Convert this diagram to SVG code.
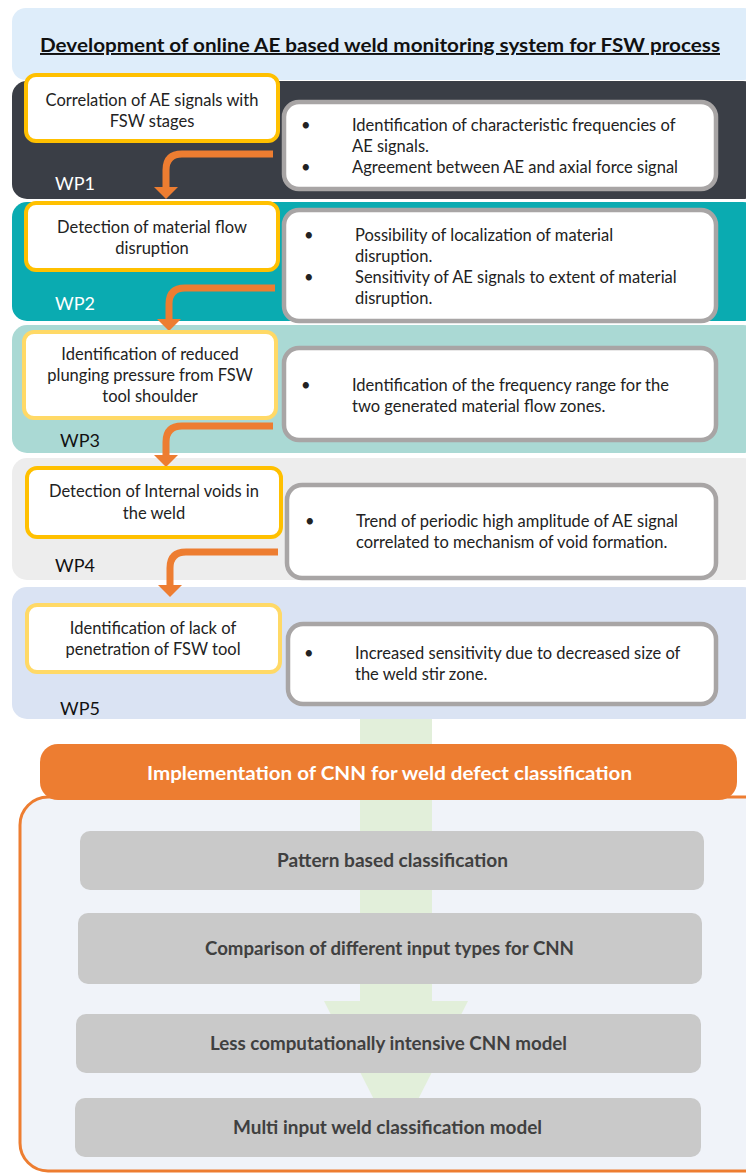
<svg xmlns="http://www.w3.org/2000/svg" width="746" height="1173" viewBox="0 0 746 1173">
<style>
.t{font-family:Lato,"Liberation Sans",sans-serif;font-size:16.5px;fill:#222}
.c{text-anchor:middle}
.wpl{font-family:Lato,"Liberation Sans",sans-serif;font-size:18px}
.lb{fill:#fff;stroke:#ffc000;stroke-width:4}
.lb2{fill:#fff;stroke:#ffd966;stroke-width:4}
.rb{fill:#fff;stroke:#a8a5a5;stroke-width:4.5}
.arr{fill:none;stroke:#ed7d31;stroke-width:7}
.head{fill:#ed7d31}
.gb{fill:#c9c9c9}
.gt{font-family:Lato,"Liberation Sans",sans-serif;font-size:18px;font-weight:bold;fill:#404040;text-anchor:middle}
</style>
<rect width="746" height="1173" fill="#fff"/>

<g id="title">
<rect x="12" y="8" width="746" height="72" rx="14" fill="#deedfa"/>
<text x="380" y="52" text-anchor="middle" font-family="Lato,'Liberation Sans',sans-serif" font-size="19.5" font-weight="bold" fill="#111" text-decoration="underline" textLength="680" lengthAdjust="spacingAndGlyphs">Development of online AE based weld monitoring system for FSW process</text>
</g>

<g id="wp1">
<rect x="12" y="81" width="746" height="118" rx="15" fill="#3a3e46"/>
<text class="wpl" x="55" y="190" fill="#fff">WP1</text>
</g>
<g id="wp2">
<rect x="12" y="202" width="746" height="119" rx="15" fill="#0aabb1"/>
<text class="wpl" x="55" y="310" fill="#fff">WP2</text>
</g>
<g id="wp3">
<rect x="12" y="325" width="746" height="128" rx="15" fill="#aad9d4"/>
<text class="wpl" x="60" y="447" fill="#111">WP3</text>
</g>
<g id="wp4">
<rect x="12" y="458" width="746" height="122" rx="15" fill="#ededed"/>
<text class="wpl" x="55" y="572" fill="#111">WP4</text>
</g>
<g id="wp5">
<rect x="12" y="587" width="746" height="132" rx="15" fill="#dae3f3"/>
<text class="wpl" x="60" y="715" fill="#111">WP5</text>
</g>

<g id="connectors">
<path class="arr" d="M273,154 H182 Q166,154 166,170 V188"/>
<polygon class="head" points="154,187 178,187 166,199"/>
<path class="arr" d="M275,288 H185 Q169,288 169,304 V320"/>
<polygon class="head" points="157,319 181,319 169,331"/>
<path class="arr" d="M273,426 H182 Q166,426 166,442 V456"/>
<polygon class="head" points="154,455 178,455 166,467"/>
<path class="arr" d="M278,552 H186 Q170,552 170,568 V586"/>
<polygon class="head" points="158,585 182,585 170,597"/>
</g>

<g id="wp1-left"><rect class="lb" x="26" y="75" width="252" height="66" rx="10"/>
<text class="t c" x="152" y="106">Correlation of AE signals with</text>
<text class="t c" x="152" y="127">FSW stages</text></g>
<g id="wp1-right"><rect class="rb" x="284" y="102" width="432" height="87" rx="15"/>
<text class="t" x="301" y="131">•</text><text class="t" x="352" y="131">Identification of characteristic frequencies of</text>
<text class="t" x="352" y="152">AE signals.</text>
<text class="t" x="301" y="173">•</text><text class="t" x="352" y="173">Agreement between AE and axial force signal</text></g>

<g id="wp2-left"><rect class="lb" x="26" y="203" width="252" height="67" rx="10"/>
<text class="t c" x="152" y="233">Detection of material flow</text>
<text class="t c" x="152" y="254">disruption</text></g>
<g id="wp2-right"><rect class="rb" x="284" y="210" width="432" height="111" rx="15"/>
<text class="t" x="304" y="241">•</text><text class="t" x="355" y="241">Possibility of localization of material</text>
<text class="t" x="355" y="262">disruption.</text>
<text class="t" x="304" y="283">•</text><text class="t" x="355" y="283">Sensitivity of AE signals to extent of material</text>
<text class="t" x="355" y="304">disruption.</text></g>

<g id="wp3-left"><rect class="lb2" x="24" y="332" width="252" height="86" rx="10"/>
<text class="t c" x="150" y="360">Identification of reduced</text>
<text class="t c" x="150" y="381">plunging pressure from FSW</text>
<text class="t c" x="150" y="402">tool shoulder</text></g>
<g id="wp3-right"><rect class="rb" x="284" y="348" width="432" height="92" rx="15"/>
<text class="t" x="301" y="391">•</text><text class="t" x="352" y="391">Identification of the frequency range for the</text>
<text class="t" x="352" y="412">two generated material flow zones.</text></g>

<g id="wp4-left"><rect class="lb" x="27" y="468" width="254" height="69" rx="10"/>
<text class="t c" x="154" y="497">Detection of Internal voids in</text>
<text class="t c" x="154" y="519">the weld</text></g>
<g id="wp4-right"><rect class="rb" x="287" y="485" width="429" height="93" rx="15"/>
<text class="t" x="305" y="527">•</text><text class="t" x="356" y="527">Trend of periodic high amplitude of AE signal</text>
<text class="t" x="356" y="548">correlated to mechanism of void formation.</text></g>

<g id="wp5-left"><rect class="lb2" x="27" y="605" width="253" height="67" rx="10"/>
<text class="t c" x="153" y="634">Identification of lack of</text>
<text class="t c" x="153" y="655">penetration of FSW tool</text></g>
<g id="wp5-right"><rect class="rb" x="288" y="624" width="428" height="80" rx="15"/>
<text class="t" x="304" y="659">•</text><text class="t" x="355" y="659">Increased sensitivity due to decreased size of</text>
<text class="t" x="355" y="680">the weld stir zone.</text></g>

<g id="cnn-container">
<rect x="20" y="797" width="760" height="374" rx="28" fill="#f0f3f9" stroke="#ed7d31" stroke-width="3"/>
</g>
<g id="flow-arrow">
<rect x="360" y="719" width="72" height="283" fill="#e2efda"/>
<polygon points="324,1001 468,1001 396,1143" fill="#e2efda"/>
</g>
<g id="cnn-header">
<rect x="40" y="744" width="697" height="56" rx="18" fill="#ed7d31"/>
<text x="389.5" y="780" text-anchor="middle" font-family="Lato,'Liberation Sans',sans-serif" font-size="19.5" font-weight="bold" fill="#fff" textLength="485" lengthAdjust="spacingAndGlyphs">Implementation of CNN for weld defect classification</text>
</g>
<g id="step1"><rect class="gb" x="80" y="831" width="624" height="59" rx="10"/><text class="gt" x="392.5" y="867" textLength="231" lengthAdjust="spacingAndGlyphs">Pattern based classification</text></g>
<g id="step2"><rect class="gb" x="78" y="913" width="624" height="71" rx="10"/><text class="gt" x="389.5" y="955" textLength="369" lengthAdjust="spacingAndGlyphs">Comparison of different input types for CNN</text></g>
<g id="step3"><rect class="gb" x="76" y="1014" width="625" height="59" rx="10"/><text class="gt" x="388.5" y="1050" textLength="357" lengthAdjust="spacingAndGlyphs">Less computationally intensive CNN model</text></g>
<g id="step4"><rect class="gb" x="75" y="1098" width="626" height="59" rx="10"/><text class="gt" x="387.5" y="1134" textLength="309" lengthAdjust="spacingAndGlyphs">Multi input weld classification model</text></g>
</svg>
